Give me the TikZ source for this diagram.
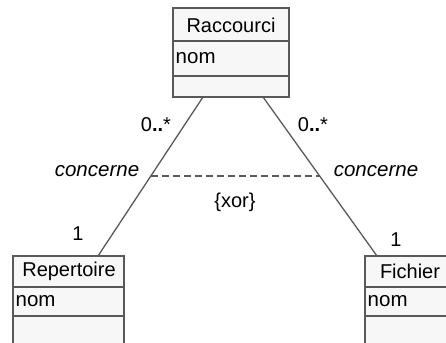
\documentclass[tikz,border=0pt]{standalone}
\usepackage{fontspec}
\setmainfont{Liberation Sans}
\usetikzlibrary{calc}
\begin{document}
\begin{tikzpicture}[x=1pt,y=-1pt,
  boxframe/.style={draw=black!65, fill=black!3, line width=1.8pt},
  divider/.style={draw=black!65, line width=1.5pt},
  assoc/.style={draw=black!65, line width=1.3pt},
  xorline/.style={draw=black!65, line width=1.1pt, dash pattern=on 7pt off 4pt},
  lbl/.style={font=\fontsize{20}{23}\selectfont, inner sep=0pt},
  ilbl/.style={font=\fontsize{20.5}{23}\selectfont\itshape, inner sep=0pt},
  title/.style={font=\fontsize{20}{23}\selectfont, inner sep=0pt},
  attr/.style={font=\fontsize{20.5}{23}\selectfont, inner sep=0pt, anchor=west}]
\useasboundingbox (0,0) rectangle (446,342);
% Raccourci
\path[boxframe] (173,8) rectangle (289,97);
\draw[divider] (173,41) -- (289,41);
\draw[divider] (173,76) -- (289,76);
\node[title] (racT) at (231,25) {Raccourci};
\node[attr] (racA) at (175.5,58.5) {nom};
% Repertoire
\path[boxframe] (13,256) rectangle (124,352);
\draw[divider] (13,287) -- (124,287);
\draw[divider] (13,316) -- (124,316);
\node[title] (repT) at (69,271.5) {Repertoire};
\node[attr] (repA) at (15.5,301.5) {nom};
% Fichier
\path[boxframe] (365,256) rectangle (462,352);
\draw[divider] (365,287) -- (462,287);
\draw[divider] (365,316) -- (462,316);
\node[title] (ficT) at (410,271.5) {Fichier};
\node[attr] (ficA) at (367.5,301.5) {nom};
% association end points
\coordinate (racL) at (203,97);
\coordinate (racR) at (263,97);
\coordinate (repTop) at (98,256);
\coordinate (ficTop) at (377,256);
\draw[assoc] (racL) -- (repTop);
\draw[assoc] (racR) -- (ficTop);
\coordinate (mL) at ($(racL)!0.497!(repTop)$);
\coordinate (mR) at ($(racR)!0.497!(ficTop)$);
\draw[xorline] (mL) -- (mR);
% labels
\node[lbl] (m1) at (156,125) {0\textbf{..}*};
\node[lbl] (m2) at (313,125) {0\textbf{..}*};
\node[ilbl] (c1) at (97,171) {concerne};
\node[ilbl] (c2) at (376,171) {concerne};
\node[lbl] (x) at (235,202) {\{xor\}};
\node[lbl] (o1) at (78,234) {1};
\node[lbl] (o2) at (396,240) {1};
\end{tikzpicture}
\end{document}
